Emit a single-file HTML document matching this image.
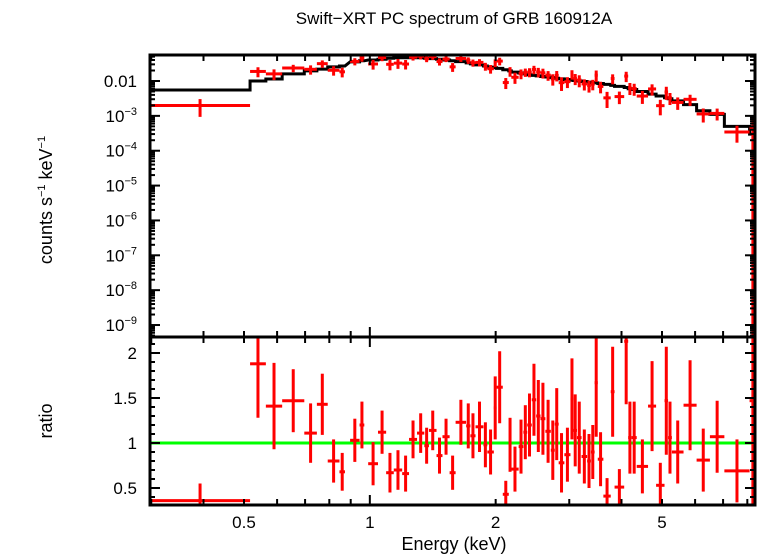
<!DOCTYPE html>
<html><head><meta charset="utf-8"><style>
html,body{margin:0;padding:0;background:#fff;}
svg{display:block;font-family:"Liberation Sans",sans-serif;}
</style></head><body>
<svg id="chart" width="758" height="556" viewBox="0 0 758 556">
<text x="454" y="24" font-size="17" text-anchor="middle">Swift−XRT PC spectrum of GRB 160912A</text>
<g id="layer"></g>
</svg>
<script>
const elo=[.298,.517,.564,.617,.697,.747,.793,.846,.897,.945,.991,1.046,1.094,1.141,1.195,1.241,1.297,1.35,1.385,1.444,1.492,1.552,1.604,1.70,1.74,1.79,1.87,1.91,1.98,2.01,2.08,2.15,2.18,2.27,2.33,2.38,2.44,2.50,2.56,2.63,2.71,2.77,2.83,2.92,3.02,3.07,3.13,3.21,3.31,3.38,3.45,3.51,3.62,3.77,3.85,4.06,4.15,4.23,4.35,4.63,4.84,5.07,5.17,5.28,5.63,6.05,6.51,7.05,8.1];
const ehi=[.517,.564,.617,.697,.747,.793,.846,.872,.945,.97,1.046,1.094,1.141,1.195,1.241,1.297,1.35,1.385,1.444,1.492,1.552,1.604,1.70,1.74,1.79,1.87,1.91,1.98,2.01,2.08,2.15,2.18,2.27,2.33,2.38,2.44,2.50,2.56,2.63,2.71,2.77,2.83,2.92,3.02,3.07,3.13,3.21,3.31,3.38,3.45,3.51,3.62,3.77,3.85,4.06,4.15,4.23,4.35,4.63,4.84,5.07,5.17,5.28,5.63,6.05,6.51,7.05,8.1,8.4];
const model=[.0055,.01,.0114,.016,.0195,.022,.0254,.027,.0355,.038,.04,.042,.045,.0465,.0465,.0465,.0465,.045,.044,.042,.04,.038,.036,.033,.031,.029,.027,.025,.024,.023,.021,.0195,.018,.017,.016,.015,.0145,.014,.0135,.013,.0125,.012,.0115,.011,.0105,.0103,.01,.0097,.0093,.009,.0088,.0085,.008,.0075,.007,.0065,.006,.0057,.005,.0042,.0037,.0033,.0031,.0027,.0021,.0014,.0011,.0005,.0003];
const ratio=[.36,1.88,1.41,1.47,1.11,1.43,.80,.68,1.03,1.2,.77,1.12,.67,.70,.66,1.04,1.11,.97,1.14,.86,1.07,.67,1.23,1.19,1.08,1.18,.98,.9,1.39,1.62,.43,.98,.71,.96,1.12,1.2,1.48,1.3,1.27,1.13,.92,1.21,.78,.87,1.49,1.14,1.06,.85,.8,.9,1.67,.82,.41,1.57,.51,2.13,1.06,1.06,.74,1.41,.53,1.47,1.06,.9,1.42,.81,1.07,.69,1.47];
const ratioErr=[.19,.6,.48,.35,.33,.34,.24,.21,.24,.26,.24,.24,.22,.22,.2,.21,.22,.2,.22,.2,.2,.19,.25,.25,.25,.28,.25,.25,.35,.4,.15,.3,.25,.3,.3,.35,.4,.4,.4,.35,.33,.4,.33,.3,.45,.4,.4,.3,.3,.3,.6,.3,.2,.5,.2,.7,.4,.4,.3,.5,.25,.6,.4,.35,.5,.35,.4,.35,1.5];
const xTickVals=[0.5,1,2,5];
const yTopTickExp=[-9,-8,-7,-6,-5,-4,-3,-2];
const yBotTickVals=[0.5,1,1.5,2];

const NS="http://www.w3.org/2000/svg";
const L=150,R=755,T=55,M=337,B=505;
const X=e=>244+418*Math.log10(e/0.5);
const YT=v=>81-34.86*(Math.log10(v)+2);
const YB=r=>443-90*(r-1);
const layer=document.getElementById('layer');
function mk(tag,attrs,parent){const el=document.createElementNS(NS,tag);for(const k in attrs)el.setAttribute(k,attrs[k]);(parent||layer).appendChild(el);return el;}
const clampT=y=>Math.max(T,Math.min(M,y)), clampB=y=>Math.max(M,Math.min(B,y));

// green unity line
const g1=mk('line',{x1:L,x2:R,y1:YB(1),y2:YB(1),stroke:'#00ff00','stroke-width':3});



// model step
let d='';
for(let i=0;i<elo.length;i++){const y=YT(model[i]);d+=(i?'L':'M')+X(elo[i])+','+y+'L'+Math.min(R,X(ehi[i]))+','+y;}
const mp=mk('path',{d:d,fill:'none',stroke:'#000','stroke-width':3});



// data points
for(let i=0;i<elo.length;i++){
  const x1=X(elo[i]),x2=Math.min(R,X(ehi[i])),xc=X(Math.sqrt(elo[i]*ehi[i]));
  const v=model[i]*ratio[i],e=model[i]*ratioErr[i];
  const gT=mk('g',{stroke:'#ff0000','stroke-width':3});
  
  
  const yv=YT(v),ylo=v-e>0?YT(v-e):M;
  mk('line',{x1:x1,x2:x2,y1:yv,y2:yv},gT);
  mk('line',{x1:xc,x2:xc,y1:clampT(YT(v+e)),y2:clampT(ylo)},gT);
  const gB=mk('g',{stroke:'#ff0000','stroke-width':3});
  
  
  const yr=clampB(YB(ratio[i]));
  mk('line',{x1:x1,x2:x2,y1:yr,y2:yr},gB);
  mk('line',{x1:xc,x2:xc,y1:clampB(YB(ratio[i]+ratioErr[i])),y2:clampB(YB(ratio[i]-ratioErr[i]))},gB);
}

// frames
const fr=mk('g',{fill:'none',stroke:'#000','stroke-width':3});


mk('rect',{x:L,y:T,width:R-L,height:B-T},fr);
mk('line',{x1:L,x2:R,y1:M,y2:M},fr);

const tk=mk('g',{stroke:'#000','stroke-width':2});


// x ticks
const minorE=[0.3,0.4,0.5,0.6,0.7,0.8,0.9,1,2,3,4,5,6,7,8];
minorE.forEach(e=>{const x=X(e),len=(e===1)?10:6;
  [T,M,B].forEach((y0,j)=>{ if(j===0||j===2){const s=j===0?1:-1;mk('line',{x1:x,x2:x,y1:y0,y2:y0+s*len},tk);} else {mk('line',{x1:x,x2:x,y1:y0-len,y2:y0+len},tk);} });
});
xTickVals.forEach(e=>{const t=mk('text',{x:X(e),y:528,'font-size':17,'text-anchor':'middle',stroke:'none'});t.textContent=String(e);
  
  });
// top y ticks
for(let p=-10;p<=-1;p++){for(let m=1;m<10;m++){const v=m*Math.pow(10,p),y=YT(v);if(y<T||y>M)continue;const len=m===1?10:5;
  mk('line',{x1:L,x2:L+len,y1:y,y2:y},tk);mk('line',{x1:R,x2:R-len,y1:y,y2:y},tk);}}
yTopTickExp.forEach(p=>{const y=YT(Math.pow(10,p));const t=mk('text',{x:137,y:y+6,'font-size':17,'text-anchor':'end',stroke:'none'});
  if(p===-2){t.textContent='0.01';}else{t.textContent='10';const s=mk('tspan',{'font-size':11,dy:-7},t);s.textContent='−'+(-p);}
  
  });
// bottom y ticks
for(let r=0.4;r<=2.15;r+=0.1){const y=YB(r);const maj=Math.abs(r*2-Math.round(r*2))<1e-6;const len=maj?10:5;
  mk('line',{x1:L,x2:L+len,y1:y,y2:y},tk);mk('line',{x1:R,x2:R-len,y1:y,y2:y},tk);}
yBotTickVals.forEach(r=>{const t=mk('text',{x:137,y:YB(r)+6,'font-size':17,'text-anchor':'end',stroke:'none'});t.textContent=String(r);
  
  });

const xt=mk('text',{x:454,y:550,'font-size':18,'text-anchor':'middle'});xt.textContent='Energy (keV)';


const yt=mk('text',{x:0,y:0,'font-size':18,'text-anchor':'middle',transform:'translate(52,200) rotate(-90)'});
yt.textContent='counts s';const a=mk('tspan',{'font-size':11,dy:-7},yt);a.textContent='−1';const b=mk('tspan',{dy:7},yt);b.textContent=' keV';const c=mk('tspan',{'font-size':11,dy:-7},yt);c.textContent='−1';


const rt=mk('text',{x:0,y:0,'font-size':18,'text-anchor':'middle',transform:'translate(52,421) rotate(-90)'});rt.textContent='ratio';


</script>
</body></html>
